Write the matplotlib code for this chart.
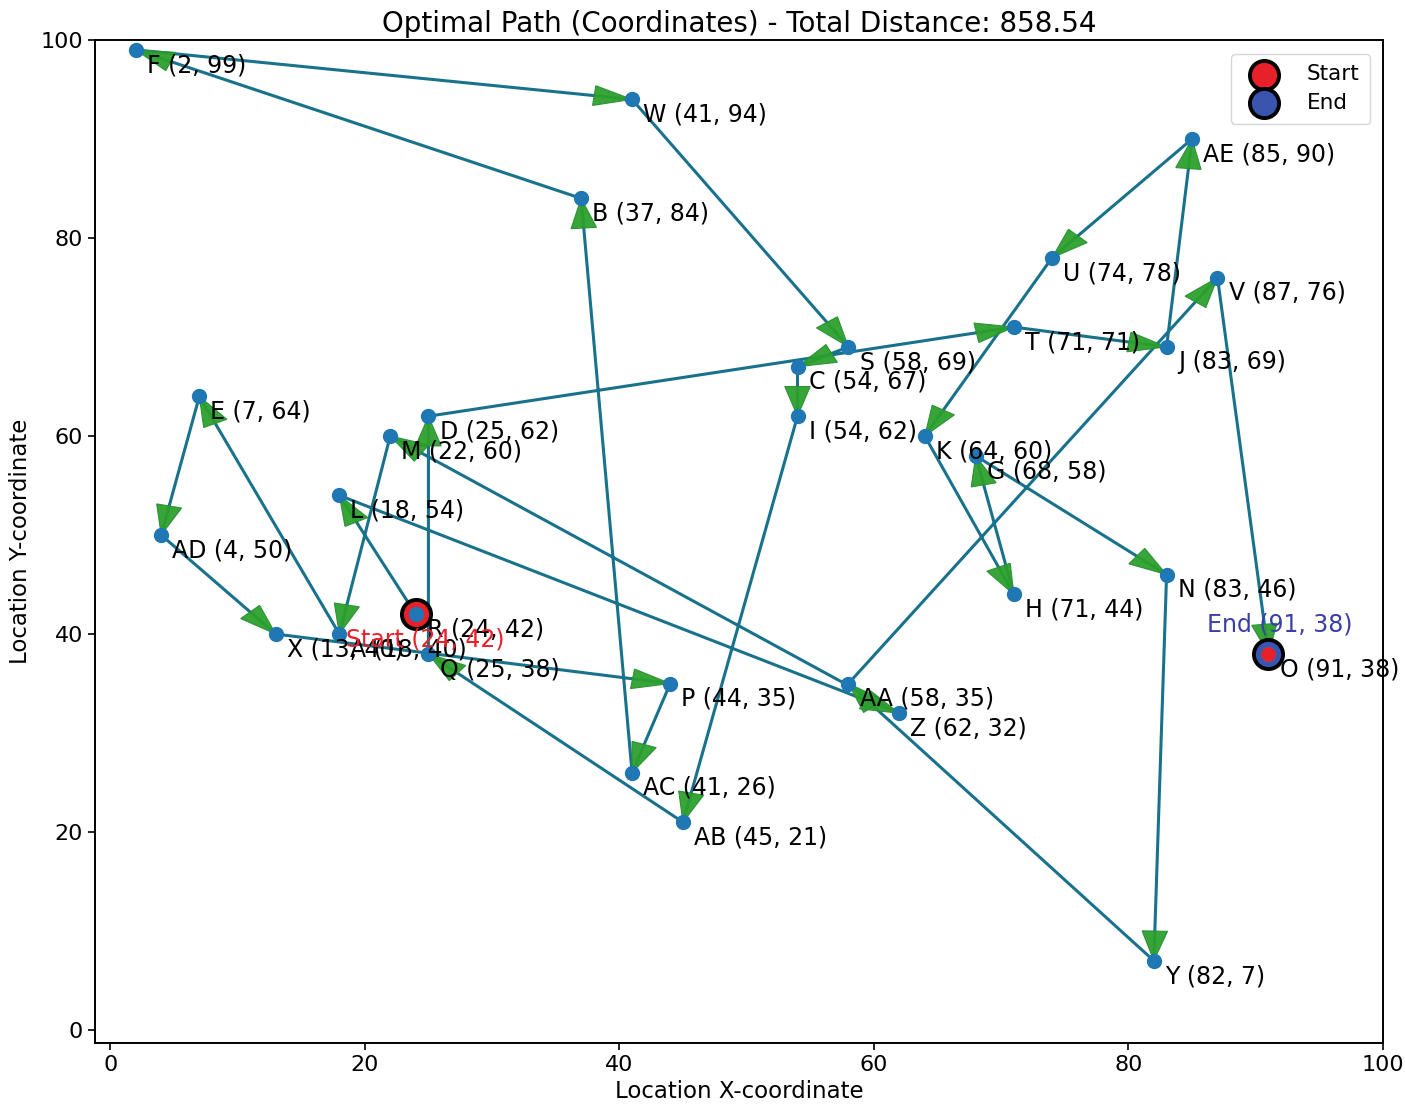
import math
import matplotlib
matplotlib.use("Agg")
import matplotlib.pyplot as plt

# locations
names = ["A", "B", "C", "D", "E", "F", "G", "H", "I", "J", "K", "L", "M", "N", "O", "P",
         "Q", "R", "S", "T", "U", "V", "W", "X", "Y", "Z", "AA", "AB", "AC", "AD", "AE"]
xs = [18, 37, 54, 25, 7, 2, 68, 71, 54, 83, 64, 18, 22, 83, 91, 44,
      25, 24, 58, 71, 74, 87, 41, 13, 82, 62, 58, 45, 41, 4, 85]
ys = [40, 84, 67, 62, 64, 99, 58, 44, 62, 69, 60, 54, 60, 46, 38, 35,
      38, 42, 69, 71, 78, 76, 94, 40, 7, 32, 35, 21, 26, 50, 90]

# visiting order
route = ["R", "L", "Z", "M", "A", "E", "AD", "X", "P", "AC", "B", "F", "W", "S", "C", "I",
         "AB", "Q", "D", "T", "J", "AE", "U", "K", "H", "G", "N", "Y", "AA", "V", "O"]
total_distance = 858.54

pos = {n: (x, y) for n, x, y in zip(names, xs, ys)}
px = [pos[n][0] for n in route]
py = [pos[n][1] for n in route]

fig = plt.figure(figsize=(14.05, 11.1), dpi=100)
ax = fig.add_axes([0.0676, 0.0604, 0.9167, 0.9036])

line_col = "#19728c"
ax.plot(px, py, color=line_col, lw=2.2, zorder=2)

# arrow heads only, tip on the next stop
head_len = 3
for i in range(len(route) - 1):
    dx, dy = px[i + 1] - px[i], py[i + 1] - py[i]
    seg = math.hypot(dx, dy)
    bx = px[i + 1] - dx / seg * head_len
    by = py[i + 1] - dy / seg * head_len
    ax.arrow(bx, by, px[i + 1] - bx, py[i + 1] - by, width=0.0,
             head_width=2, head_length=head_len, length_includes_head=True,
             fc="#2ca02c", ec="#2b8f35", lw=0.8, alpha=0.95, zorder=3)

# start / end markers
sx, sy = pos[route[0]]
ex, ey = pos[route[-1]]
ax.scatter([sx], [sy], s=440, c="#e8202a", edgecolors="black", linewidths=2.8,
           label="Start", zorder=4)
ax.scatter([ex], [ey], s=440, c="#3a55b0", edgecolors="black", linewidths=2.8,
           label="End", zorder=4)

ax.scatter(xs, ys, s=100, c="#1f77b4", zorder=5)
ax.scatter([ex], [ey], s=90, c="#e8202a", zorder=6)

for n, x, y in zip(names, xs, ys):
    ax.annotate(f"{n} ({x}, {y})", (x, y), xytext=(8, -11), textcoords="offset points",
                ha="left", va="center", fontsize=17, zorder=7)

ax.annotate(f"Start ({sx}, {sy})", (sx, sy), xytext=(7, -18), textcoords="offset points",
            ha="center", va="center", fontsize=17, color="#e8202a", zorder=8)
ax.annotate(f"End ({ex}, {ey})", (ex, ey), xytext=(8, 21), textcoords="offset points",
            ha="center", va="center", fontsize=17, color="#3b3fa5", zorder=8)

ax.set_xlim(-1.2, 100)
ax.set_ylim(-1.3, 100)
ax.set_xticks([0, 20, 40, 60, 80, 100])
ax.set_yticks([0, 20, 40, 60, 80, 100])
ax.tick_params(labelsize=16, length=5, width=1.2)
for sp in ax.spines.values():
    sp.set_linewidth(1.4)

ax.set_xlabel("Location X-coordinate", fontsize=16.5, labelpad=4)
ax.set_ylabel("Location Y-coordinate", fontsize=16.5, labelpad=6)
ax.set_title(f"Optimal Path (Coordinates) - Total Distance: {total_distance:.2f}",
             fontsize=20, pad=6)
ax.legend(loc="upper right", fontsize=15.5, borderpad=0.5, handletextpad=1.0,
          labelspacing=0.4, bbox_to_anchor=(0.9985, 0.997))

fig.savefig("out.png", dpi=100)
